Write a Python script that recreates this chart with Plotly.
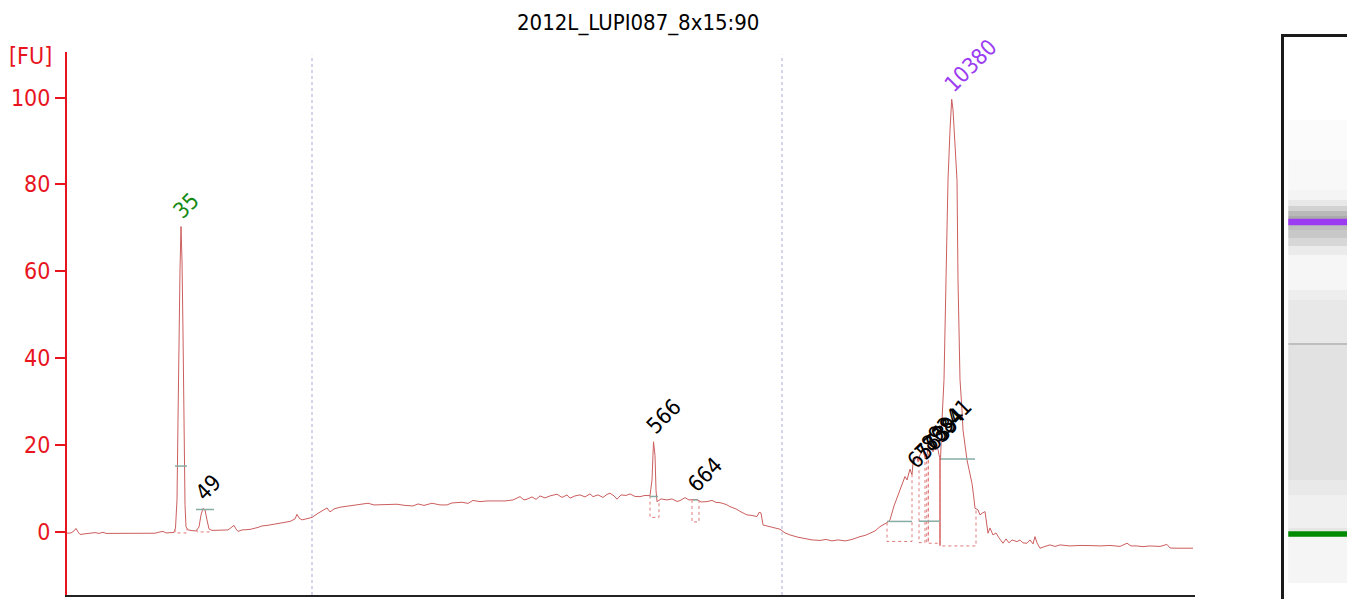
import numpy as np
import plotly.graph_objects as go

TITLE = "2012L_LUPI087_8x15:90"
FONT = "'DejaVu Sans Condensed', 'Liberation Sans', sans-serif"

# ---- electropherogram: time index vs fluorescence [FU] ----
time_idx = [0, 4, 7, 9, 11, 13, 17, 21, 28, 32, 36, 39, 53, 73, 88, 93, 96, 99, 103, 107,
            108.5, 110, 111, 112, 113, 114, 115, 116, 117, 118, 119, 121, 125, 129, 132, 134, 136, 138, 140, 142,
            145, 153, 161, 165, 167, 169, 171, 175, 183, 191, 195, 200, 208, 216, 223, 228, 230, 232, 235, 239,
            245, 250, 256, 260, 263, 267, 273, 279, 286, 293, 301, 307, 313, 321, 330, 338, 346, 351, 357, 365,
            373, 380, 385, 395, 401, 406, 413, 420, 430, 438, 446, 451, 453, 457, 460, 465, 469, 473, 478, 483,
            490, 495, 500, 503, 508, 513, 518, 523, 526, 531, 536, 540, 543, 547, 550, 554, 559, 563, 568, 573,
            578, 583, 585, 586.5, 588, 589, 590, 594, 600, 605, 610, 613, 618, 622, 626, 630, 634, 640, 645, 649,
            653, 659, 663, 669, 674, 680, 685, 690, 692, 694, 696, 703, 708, 713, 718, 723, 731, 738, 745, 753,
            759, 765, 771, 778, 785, 793, 798, 803, 808, 813, 817, 820, 823, 825, 827, 830, 833, 836, 838, 840,
            843, 845, 846, 850, 851, 853, 856, 858, 860, 861, 863, 866, 868, 870, 872, 873.5, 875, 877, 879, 881,
            883, 884.7, 886, 888, 890, 891, 893, 895, 896, 900, 902, 905, 906.5, 908, 911, 913, 915, 918, 921, 923,
            926, 929, 932, 936, 939, 942, 945, 950, 953, 956, 960, 963, 966, 968, 970, 973, 978, 983, 988, 993,
            1003, 1013, 1026, 1033, 1043, 1053, 1060, 1064, 1070, 1076, 1083, 1093, 1100, 1103, 1108, 1118, 1126]
fu = [-0.37, -0.3, 0.16, 0.74, -0.07, -0.65, -0.53, -0.41, -0.23, -0.41, -0.14, -0.41, -0.41, -0.41, -0.37, -0.07, 0.05, -0.3, -0.25, -0.18,
      0.85, 7.3, 25.7, 45.8, 60.3, 70.3, 62.6, 45.8, 21.1, 6.2, 1.1, 0.4, 0.23, 0.16, 1.08, 3.85, 5.35, 5.0, 2.7, 0.62,
      0.28, 0.32, 0.39, 1.08, 1.43, 0.62, 0.05, 0.39, 0.51, 0.97, 1.31, 1.43, 1.77, 2.12, 2.35, 2.93, 4.0, 3.16, 2.7, 2.93,
      3.27, 4.08, 5.0, 5.46, 4.54, 5.23, 5.62, 5.81, 5.92, 6.15, 6.54, 6.15, 6.15, 6.27, 6.31, 6.04, 5.92, 6.38, 6.04, 6.54,
      6.15, 6.15, 6.61, 6.77, 6.5, 7.19, 6.91, 7.07, 7.14, 7.07, 7.3, 7.76, 8.06, 7.3, 7.47, 8.0, 7.42, 8.23, 7.76, 8.23,
      8.62, 7.88, 8.46, 7.7, 8.23, 8.46, 8.0, 8.69, 8.06, 8.46, 7.88, 8.57, 8.85, 8.23, 7.47, 8.46, 8.34, 8.69, 8.11, 8.06,
      8.34, 8.29, 11.9, 20.7, 17.6, 9.6, 6.91, 7.53, 7.3, 7.53, 6.96, 7.14, 7.83, 7.3, 7.3, 7.42, 6.84, 6.91, 7.19, 6.73,
      6.68, 6.27, 5.76, 5.23, 4.54, 3.85, 3.73, 3.46, 4.42, 4.31, 1.54, 1.2, 0.85, 0.55, -0.3, -0.76, -1.29, -1.57, -1.91, -2.03,
      -1.8, -2.14, -1.91, -2.14, -1.8, -1.15, -0.88, -0.37, 0.16, 1.15, 1.66, 2.07, 2.7, 4.54, 5.92, 7.76, 9.61, 11.2, 12.7, 11.9,
      14.4, 13.1, 15.8, 17.3, 16.1, 17.7, 18.8, 17.0, 17.7, 19.3, 19.6, 18.4, 19.3, 20.0, 17.7, 16.5, 25.7, 35.0, 58.0, 81.0,
      92.5, 99.6, 97.2, 88.0, 81.0, 58.0, 35.0, 28.0, 23.4, 16.5, 14.2, 11.1, 8.46, 5.39, 5.0, 3.85, 4.24, 4.61, -0.37, 0.85,
      -0.76, -0.3, -1.45, -2.67, -1.68, -2.6, -1.91, -2.3, -1.91, -2.6, -2.67, -1.91, -2.83, -1.15, -2.6, -3.82, -3.41, -3.06, -3.41, -3.06,
      -3.3, -3.18, -3.23, -3.3, -3.18, -3.41, -2.67, -3.3, -3.3, -3.46, -3.3, -3.41, -2.95, -3.76, -3.82, -3.76, -3.82]

y_tick_vals = [0, 20, 40, 60, 80, 100]
y_tick_text = ["0", "20", "40", "60", "80", "100"]
y_range = [-14.6, 110.5]
x_range = [0, 1128]

# region markers (dotted verticals)
region_marks = [245, 715]

# peak labels
peak_labels = ["35", "49", "566", "664", "6563", "7739", "8684", "9341", "10380"]
peak_x = [114, 136, 586.5, 628, 848, 855, 862, 869, 884.7]
peak_y = [70.3, 5.35, 20.7, 7.4, 12.8, 14.8, 16.8, 18.8, 99.6]
peak_colors = ["#138a13", "black", "black", "black", "black", "black", "black", "black", "#9b3bf2"]

# integration boxes
box_start = [108, 130, 583, 625, 820, 852, 859.7, 861.3, 873]
box_end = [120, 143, 592, 632, 845, 858, 861.3, 873, 909]
box_floor = [-0.3, -0.07, 3.27, 2.24, -2.26, -2.53, -2.53, -2.67, -3.3]

# half-height markers
half_x0 = [108, 129, 583, 626, 820, 852, 874]
half_x1 = [120, 147, 591, 631, 845, 873, 908]
half_y = [15.1, 5.1, 8.1, 7.3, 2.35, 2.4, 16.75]

# ---- gel lane (position 0 = top of lane frame, 100 = bottom of image) ----
gel_edges = [0, 14.56, 21.58, 26.84, 28.6, 29.65, 30.53, 31.4, 31.93, 32.98, 33.86, 35.26, 36.67, 38.25,
             44.39, 46.14, 53.68, 54.04, 77.72, 80.35, 86.14, 86.67, 87.72, 95.79, 100]
gel_grey = [255, 251, 248, 244, 232, 210, 185, 170, 200, 190, 200, 215, 235, 246,
            238, 232, 190, 226, 233, 240, 230, 240, 245, 255]
gel_band_pos = [32.45, 87.2]
gel_band_colors = ["#9b3bf2", "#008a00"]
gel_band_px = [6.5, 5.5]

OFF = 8  # page body margin
W, H = 1355 - OFF, 607 - 2 * OFF


def fx(px):
    return (px - OFF) / W


def fy(py):
    return 1 - (py - OFF) / H


gel_top_px, gel_full_px = 37, 607
gel_visible_bottom = 100 * (OFF + H - gel_top_px) / (gel_full_px - gel_top_px)

fig = go.Figure()

# main trace
fig.add_trace(go.Scatter(x=time_idx, y=fu, mode="lines",
                         line=dict(color="#cc5e5e", width=1), hoverinfo="skip"))

# integration boxes (dotted)
bx, by = [], []
for s, e, f in zip(box_start, box_end, box_floor):
    ts = float(np.interp(s, time_idx, fu))
    te = float(np.interp(e, time_idx, fu))
    bx += [s, s, e, e, None]
    by += [ts, f, f, te, None]
fig.add_trace(go.Scatter(x=bx, y=by, mode="lines",
                         line=dict(color="#e07a7a", width=1, dash="dot"), hoverinfo="skip"))
# solid start line of the main peak
s_main = box_start[-1]
fig.add_trace(go.Scatter(x=[s_main, s_main], y=[float(np.interp(s_main, time_idx, fu)), box_floor[-1]],
                         mode="lines", line=dict(color="#cf5050", width=1), hoverinfo="skip"))

# half-height markers
hx, hy = [], []
for a, b, v in zip(half_x0, half_x1, half_y):
    hx += [a, b, None]
    hy += [v, v, None]
fig.add_trace(go.Scatter(x=hx, y=hy, mode="lines",
                         line=dict(color="#86aca4", width=1.5), hoverinfo="skip"))

# region markers
for xm in region_marks:
    fig.add_shape(type="line", xref="x", yref="y domain", x0=xm, x1=xm, y0=0, y1=0.995,
                  line=dict(color="#a9a9d6", width=1, dash="dot"))

# peak labels
for lab, px_, py_, c in zip(peak_labels, peak_x, peak_y, peak_colors):
    fig.add_annotation(x=px_, y=py_, xref="x", yref="y", text=lab, showarrow=False,
                       textangle=-45, xanchor="left", yanchor="bottom", xshift=-15, yshift=0,
                       font=dict(family=FONT, size=22, color=c))

# gel heatmap
fig.add_trace(go.Heatmap(x=[0.06, 1.0], y=gel_edges, z=[[g] for g in gel_grey],
                         xaxis="x2", yaxis="y3", zmin=0, zmax=255, showscale=False,
                         colorscale=[[0, "black"], [1, "white"]], hoverinfo="skip"))
for p, c, w in zip(gel_band_pos, gel_band_colors, gel_band_px):
    fig.add_trace(go.Scatter(x=[0.06, 1.0], y=[p, p], xaxis="x2", yaxis="y3", mode="lines",
                             line=dict(color=c, width=w), hoverinfo="skip"))

fig.update_layout(
    width=W, height=H, margin=dict(l=0, r=0, t=0, b=0),
    paper_bgcolor="white", plot_bgcolor="white", showlegend=False,
    font=dict(family=FONT),
    xaxis=dict(domain=[fx(67), fx(1195)], range=x_range, showgrid=False, zeroline=False,
               showticklabels=False, ticks="", showline=True, linecolor="#222222", linewidth=2),
    yaxis=dict(domain=[fy(595), fy(52)], range=y_range, showgrid=False, zeroline=False,
               tickvals=y_tick_vals, ticktext=y_tick_text, ticks="outside", ticklen=10, tickwidth=2,
               tickcolor="#e8141e", showline=True, linecolor="#e8141e", linewidth=2,
               tickfont=dict(family=FONT, size=23, color="#e8141e")),
    xaxis2=dict(domain=[fx(1284), 1.0], range=[0, 1], anchor="y3", side="top", showgrid=False,
                zeroline=False, showticklabels=False, ticks="", showline=True,
                linecolor="#1a1a1a", linewidth=3),
    yaxis3=dict(domain=[0, fy(37)], range=[gel_visible_bottom, 0], anchor="x2", showgrid=False,
                zeroline=False, showticklabels=False, ticks="", showline=True,
                linecolor="#1a1a1a", linewidth=3),
)

fig.add_annotation(x=fx(638), y=1.0, xref="paper", yref="paper", text=TITLE,
                   showarrow=False, xanchor="center", yanchor="top",
                   font=dict(family=FONT, size=22, color="black"))
fig.add_annotation(x=fx(30), y=fy(56), xref="paper", yref="paper", text="[FU]",
                   showarrow=False, xanchor="center", yanchor="middle",
                   font=dict(family=FONT, size=23, color="#e8141e"))

fig.write_html("out.html")
